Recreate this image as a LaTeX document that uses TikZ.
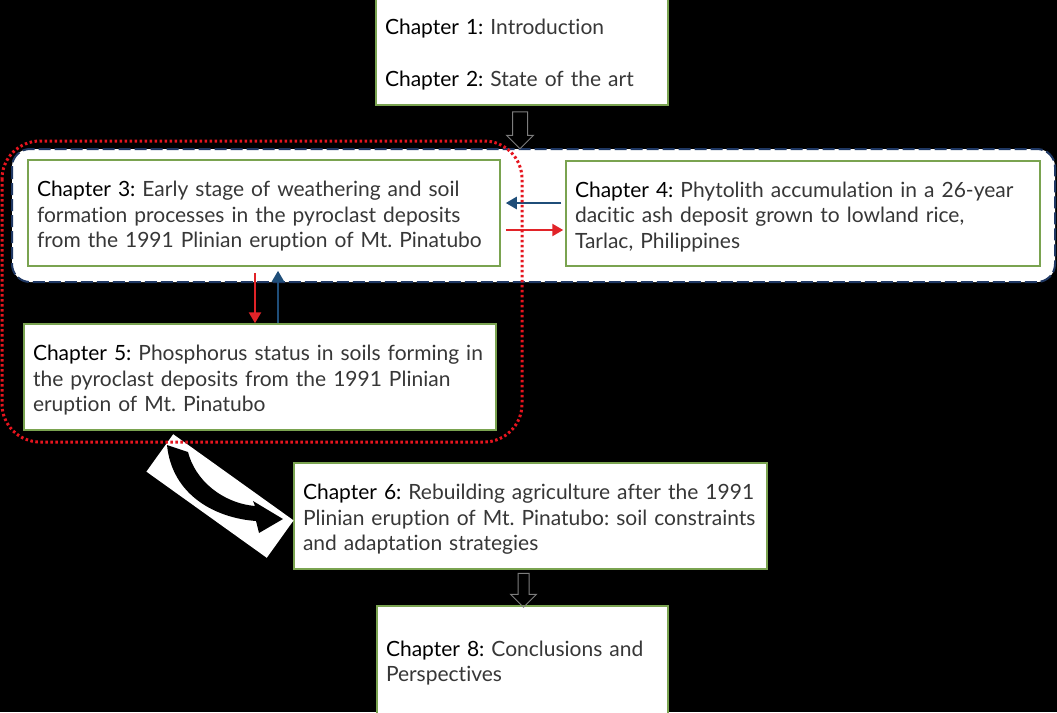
\documentclass[tikz,border=0pt]{standalone}
\usepackage{fontspec}
\setmainfont{Lato}[Ligatures=NoCommon]
\usetikzlibrary{arrows.meta,shapes.arrows,calc}
\definecolor{boxgreen}{RGB}{122,163,80}
\definecolor{navy}{RGB}{31,56,100}
\definecolor{arrowblue}{RGB}{31,78,121}
\definecolor{arrowred}{RGB}{225,35,40}
\definecolor{dotred}{RGB}{230,20,30}
\definecolor{hollowgray}{RGB}{125,125,125}
\definecolor{bodytext}{RGB}{55,55,55}
\newcommand{\chp}[1]{\rule{0pt}{22pt}\textcolor{black}{#1}}
\frenchspacing
\begin{document}
\begin{tikzpicture}[x=1pt,y=-1pt,
  chbox/.style={draw=boxgreen, line width=1.5pt, fill=white, inner xsep=9pt, inner ysep=0pt,
    align=left, font=\fontsize{21}{25.5}\selectfont, text=bodytext, anchor=center},
  hollowarrow/.style={single arrow, draw=hollowgray, line width=1pt, shape border rotate=270,
    single arrow tip angle=90},
  link/.style={line width=2.5pt, -{Triangle[length=11pt,width=12pt]}},
]
\useasboundingbox (0,0) rectangle (1057,712);
\fill[black] (0,0) rectangle (1057,712);
\clip (0,0) rectangle (1057,712);

% group frame of chapters 3 and 4
\draw[navy, line width=2pt, dash pattern=on 12pt off 4pt, fill=white, rounded corners=18pt]
  (12,149) rectangle (1055,282);

% chapter boxes
\node[chbox, text width=274pt, minimum height=107pt] (ch12) at (522,51.5)
  {\chp{Chapter 1:} Introduction\\[25.5pt]\chp{Chapter 2:} State of the art};
\node[chbox, text width=454pt, minimum height=106pt] (ch3) at (264,213)
  {\chp{Chapter 3:} Early stage of weathering and soil\\formation processes in the pyroclast deposits\\from the 1991 Plinian eruption of Mt. Pinatubo};
\node[chbox, text width=456pt, minimum height=105pt] (ch4) at (803,213.5)
  {\chp{Chapter 4:} Phytolith accumulation in a 26-year\\dacitic ash deposit grown to lowland rice,\\Tarlac, Philippines};
\node[chbox, text width=454pt, minimum height=106pt] (ch5) at (260,377)
  {\chp{Chapter 5:} Phosphorus status in soils forming in\\the pyroclast deposits from the 1991 Plinian\\eruption of Mt. Pinatubo};
\node[chbox, text width=455pt, minimum height=106pt] (ch6) at (530.5,516)
  {\chp{Chapter 6:} Rebuilding agriculture after the 1991\\Plinian eruption of Mt. Pinatubo: soil constraints\\and adaptation strategies};
\node[chbox, text width=273pt, minimum height=108pt] (ch8) at (522.5,660)
  {\chp{Chapter 8:} Conclusions and\\Perspectives};

% hollow block arrows
\node[hollowarrow, inner sep=7pt, single arrow head extend=6pt, minimum height=37pt, minimum width=26pt]
  (down1) at (520,126.5) {};
\node[hollowarrow, inner sep=5pt, single arrow head extend=7.5pt, minimum height=34pt, minimum width=25pt]
  (down2) at ($(ch6.south)!0.5!(ch8.north) + (-3,0)$) {};

% exchange arrows between chapters 3 and 4
\draw[link, arrowblue, shorten <=4pt, shorten >=5pt]
  ([yshift=10.5pt]ch4.west) -- ([yshift=10.5pt]ch4.west -| ch3.east);
\draw[link, arrowred, shorten <=5pt, shorten >=2pt]
  ([yshift=-17pt]ch3.east) -- ([yshift=-17pt]ch3.east -| ch4.west);

% exchange arrows between chapters 3 and 5
\draw[link, arrowred, shorten <=6pt]
  ([xshift=-9pt]ch3.south) -- ([xshift=-9pt]ch3.south |- ch5.north);
\draw[link, arrowblue, shorten >=4pt]
  ([xshift=14pt]ch3.south |- ch5.north) -- ([xshift=14pt]ch3.south);

% curved arrow on white band
\node[fill=white, minimum width=148pt, minimum height=46pt, inner sep=0pt, rotate=-35.6]
  (turnbg) at (220,496) {};
\fill[black] (167,445) .. controls (172,495) and (215,518) .. (256,521)
  -- (259,533) -- (283,519) -- (253,501) -- (255,506)
  .. controls (222,503) and (195,480) .. (188,452) -- cycle;

% red dotted group frame of chapters 3 and 5
\draw[dotred, line width=3pt, dash pattern=on 2.5pt off 2.5pt, rounded corners=38pt]
  (2,141) rectangle (522,442);
\end{tikzpicture}
\end{document}
